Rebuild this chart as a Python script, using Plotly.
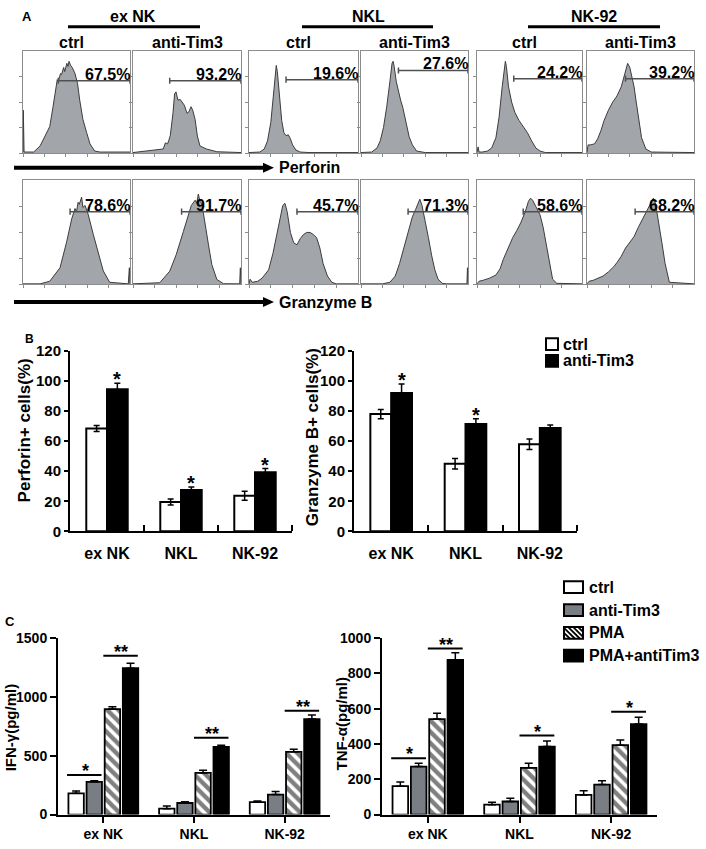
import plotly.graph_objects as go

W, H = 706, 849
FONT = "Arial, 'Liberation Sans', sans-serif"

# ======================= DATA =======================
cell_lines = ["ex NK", "NKL", "NK-92"]
conditions_A = ["ctrl", "anti-Tim3"]

# ---- Panel A: flow histograms (x: % of channel range, y: % of max count) ----
prf_exnk_ctrl_x = [0, 0.3, 1, 10, 16, 19, 25, 28, 31, 32, 33, 35, 36, 38, 39, 41, 42, 43, 44.5, 46, 48.6, 51, 53, 56, 59.5, 62.6, 67, 72, 100]
prf_exnk_ctrl_y = [1, 42, 1, 1, 7, 13, 26, 45, 65, 72, 70, 78, 77, 84, 80, 88, 85, 90, 86, 84, 78, 68, 52, 33, 20, 9, 2, 1, 1]
prf_exnk_anti_x = [0, 28, 30, 32, 33, 34.5, 37, 38.5, 39.8, 41.6, 43.8, 45.3, 47.5, 50, 51.9, 53.7, 55.3, 57.5, 59.6, 62, 68, 77.6, 93, 100]
prf_exnk_anti_y = [0.5, 4, 10, 9, 12, 17, 39, 58, 60, 52, 52.5, 50, 47, 39, 40.7, 45.5, 42, 33, 16.7, 7, 4, 1.3, 0.6, 0.5]
prf_nkl_ctrl_x = [0, 10, 14, 17, 20, 22, 24, 25, 26, 28, 30, 32, 34, 36, 38, 40, 43, 47, 55, 100]
prf_nkl_ctrl_y = [0.5, 1, 4, 12, 30, 55, 80, 86, 80, 55, 32, 20, 17, 18, 14, 8, 3, 1, 0.5, 0.5]
prf_nkl_anti_x = [0, 10, 15, 18, 21, 24, 27, 29, 30, 31, 33, 35, 37, 39, 42, 45, 48, 52, 60, 100]
prf_nkl_anti_y = [0.5, 1, 5, 12, 25, 45, 70, 88, 90, 85, 70, 60, 52, 45, 30, 16, 8, 2, 0.5, 0.5]
prf_nk92_ctrl_x = [0, 1, 2, 5, 10, 14, 18, 21, 24, 26, 27, 28, 30, 33, 36, 40, 44, 48, 52, 56, 60, 65, 100]
prf_nk92_ctrl_y = [0.5, 6, 1, 1, 2, 5, 15, 35, 65, 85, 90, 85, 65, 50, 40, 32, 26, 20, 12, 5, 2, 0.5, 0.5]
prf_nk92_anti_x = [0, 1, 3, 7, 10, 13, 16, 20, 24, 28, 32, 35, 37, 38, 40, 42, 44, 46, 48, 51, 55, 60, 100]
prf_nk92_anti_y = [0.5, 8, 8, 9, 14, 22, 32, 42, 50, 56, 65, 78, 85, 88, 84, 75, 65, 50, 35, 15, 4, 1, 0.5]

gzb_exnk_ctrl_x = [0, 16, 25, 34.6, 40.8, 45.5, 48.6, 50, 51.5, 52.6, 54.8, 56, 58, 61, 65.7, 70.4, 75, 81, 98.4, 99.4, 100]
gzb_exnk_ctrl_y = [0.5, 0.5, 3, 16, 41, 63, 73, 70, 79, 77, 84, 74, 76, 67, 48, 29, 13, 2, 0.5, 16, 0.5]
gzb_exnk_anti_x = [0, 24.8, 34, 40, 46.6, 51, 54, 57.5, 59, 60.5, 62, 63.7, 66.8, 69.9, 73, 77.6, 83.9, 98.8, 99.4, 100]
gzb_exnk_anti_y = [0.5, 1.6, 12.7, 28.6, 50.8, 66.7, 76, 81, 78, 87, 80, 78, 60, 38, 19, 4.8, 0.6, 0.5, 16, 0.5]
gzb_nkl_ctrl_x = [0, 1, 3, 8, 12, 18, 22, 26, 29, 31, 33, 35, 38, 41, 44, 47, 50, 53, 56, 59, 62, 65, 68, 72, 76, 80, 100]
gzb_nkl_ctrl_y = [0.5, 5, 2, 3, 6, 14, 30, 50, 68, 76, 78, 70, 50, 40, 38, 44, 48, 50, 50, 48, 45, 35, 20, 8, 2, 0.5, 0.5]
gzb_nkl_anti_x = [0, 20, 27, 32, 36, 40, 44, 48, 51, 53, 55, 57, 60, 63, 66, 69, 72, 76, 80, 99, 99.5, 100]
gzb_nkl_anti_y = [0.5, 0.5, 2, 8, 20, 35, 52, 65, 72, 78, 82, 76, 62, 45, 28, 14, 5, 1, 0.5, 0.5, 16, 0.5]
gzb_nk92_ctrl_x = [0, 2, 6, 12, 18, 22, 25, 28, 31, 34, 38, 42, 46, 49, 51, 53, 56, 60, 63, 66, 69, 72, 76, 100]
gzb_nk92_ctrl_y = [0.5, 3, 4, 6, 9, 15, 24, 31, 38, 45, 52, 60, 70, 80, 83, 81, 75, 67, 55, 39, 20, 5, 1, 0.5]
gzb_nk92_anti_x = [0, 2, 6, 10, 15, 20, 25, 28, 32, 36, 40, 44, 48, 52, 56, 60, 62, 64, 66, 68, 70, 73, 77, 100]
gzb_nk92_anti_y = [0.5, 3, 4, 6, 8, 12, 17, 21, 27, 35, 40, 46, 55, 63, 72, 80, 83, 78, 66, 55, 40, 20, 2, 0.5]

perforin_pct = ["67.5%", "93.2%", "19.6%", "27.6%", "24.2%", "39.2%"]
perforin_gate_start = [33, 34, 34, 35, 35, 36]
perforin_gate_level = [71, 71, 72, 81, 73, 73]
granzyme_pct = ["78.6%", "91.7%", "45.7%", "71.3%", "58.6%", "68.2%"]
granzyme_gate_start = [44, 45, 44, 44, 44, 45]
granzyme_gate_level = [70, 70, 70, 70, 70, 70]

# ---- Panel B ----
perforin_ctrl = [68.5, 19.5, 23.7]
perforin_ctrl_err = [2, 2, 3]
perforin_anti = [94.5, 27.5, 39.3]
perforin_anti_err = [4, 2, 2.5]
perforin_sig = ["*", "*", "*"]
granzyme_ctrl = [78, 45, 58]
granzyme_ctrl_err = [3, 3.5, 3.5]
granzyme_anti = [92, 71.5, 68.7]
granzyme_anti_err = [6, 3.5, 2]
granzyme_sig = ["*", "*", ""]

# ---- Panel C ----
c_series = ["ctrl", "anti-Tim3", "PMA", "PMA+antiTim3"]
ifng_ctrl = [180, 50, 105]
ifng_ctrl_err = [20, 22, 10]
ifng_anti = [278, 98, 170]
ifng_anti_err = [10, 10, 25]
ifng_pma = [897, 355, 533]
ifng_pma_err = [20, 22, 22]
ifng_pma_anti = [1245, 575, 812]
ifng_pma_anti_err = [42, 14, 34]
tnfa_ctrl = [161, 56, 111]
tnfa_ctrl_err = [24, 13, 24]
tnfa_anti = [272, 74, 170]
tnfa_anti_err = [19, 19, 21]
tnfa_pma = [541, 265, 393]
tnfa_pma_err = [33, 26, 29]
tnfa_pma_anti = [876, 385, 513]
tnfa_pma_anti_err = [41, 32, 39]
# significance bars: group index, first bar of the compared pair, level, label
ifng_sig_group = [0, 0, 1, 2]
ifng_sig_first = [0, 2, 2, 2]
ifng_sig_level = [336, 1351, 653, 883]
ifng_sig_text = ["*", "**", "**", "**"]
tnfa_sig_group = [0, 0, 1, 2]
tnfa_sig_first = [0, 2, 2, 2]
tnfa_sig_level = [319, 941, 448, 583]
tnfa_sig_text = ["*", "**", "*", "*"]

# ======================= HELPERS =======================
def PX(x):
    return x / W

def PY(y):
    return 1 - y / H

def bold(size):
    return dict(family=FONT, size=size, color="black", weight="bold")

fig = go.Figure()
shapes = []
annotations = []
layout = dict(
    width=W, height=H, margin=dict(l=0, r=0, t=0, b=0),
    paper_bgcolor="white", plot_bgcolor="white", showlegend=False,
    font=dict(family=FONT, color="black"), barmode="overlay",
)

def ax_names(n):
    return ("x" if n == 1 else f"x{n}", "y" if n == 1 else f"y{n}",
            "xaxis" if n == 1 else f"xaxis{n}", "yaxis" if n == 1 else f"yaxis{n}")

# ======================= PANEL A =======================
hists = [
    (prf_exnk_ctrl_x, prf_exnk_ctrl_y), (prf_exnk_anti_x, prf_exnk_anti_y),
    (prf_nkl_ctrl_x, prf_nkl_ctrl_y), (prf_nkl_anti_x, prf_nkl_anti_y),
    (prf_nk92_ctrl_x, prf_nk92_ctrl_y), (prf_nk92_anti_x, prf_nk92_anti_y),
    (gzb_exnk_ctrl_x, gzb_exnk_ctrl_y), (gzb_exnk_anti_x, gzb_exnk_anti_y),
    (gzb_nkl_ctrl_x, gzb_nkl_ctrl_y), (gzb_nkl_anti_x, gzb_nkl_anti_y),
    (gzb_nk92_ctrl_x, gzb_nk92_ctrl_y), (gzb_nk92_anti_x, gzb_nk92_anti_y),
]
gate_pct = perforin_pct + granzyme_pct
gate_start = perforin_gate_start + granzyme_gate_start
gate_level = perforin_gate_level + granzyme_gate_level

box_x = [(23, 130), (133, 241), (249, 358), (361, 468), (477, 582), (587, 694)]
row_y = [(43, 147), (175, 281)]
GATE = "#505050"

for i, (hx, hy) in enumerate(hists):
    n = i + 1
    row, col = divmod(i, 6)
    xr, yr, xa, ya = ax_names(n)
    fig.add_trace(go.Scatter(
        x=hx, y=hy, mode="lines", fill="tozeroy",
        line=dict(color="#3c3c3c", width=1), fillcolor="#a2a6aa",
        xaxis=xr, yaxis=yr, hoverinfo="skip"))
    layout[xa] = dict(domain=[PX(box_x[col][0]), PX(box_x[col][1])], range=[0, 100],
                      showline=True, mirror=True, linecolor="#8c8c8c", linewidth=1,
                      ticks="outside", ticklen=3, tickcolor="#8c8c8c",
                      tickvals=[0, 20, 40, 60, 80], showticklabels=False,
                      showgrid=False, zeroline=False, anchor=yr, fixedrange=True)
    layout[ya] = dict(domain=[PY(row_y[row][1]), PY(row_y[row][0])], range=[0, 100],
                      showline=True, mirror=True, linecolor="#8c8c8c", linewidth=1,
                      ticks="outside", ticklen=3, tickcolor="#8c8c8c",
                      tickvals=[0, 25, 50, 75], showticklabels=False,
                      showgrid=False, zeroline=False, anchor=xr, fixedrange=True)
    s, L = gate_start[i], gate_level[i]
    shapes.append(dict(type="line", xref=xr, yref=yr, x0=s, x1=100, y0=L, y1=L,
                       line=dict(color=GATE, width=1.5)))
    for gx in (s, 100):
        shapes.append(dict(type="line", xref=xr, yref=yr, x0=gx, x1=gx, y0=L - 3, y1=L + 3,
                           line=dict(color=GATE, width=1.5)))
    annotations.append(dict(text=gate_pct[i], xref=xr, yref=yr, x=100, y=L,
                            xanchor="right", yanchor="bottom", yshift=-4, xshift=2,
                            showarrow=False, font=bold(16)))

# column headers
header_centers = [133, 368, 594]
header_lines = [(68, 200), (302, 433), (528, 660)]
for name, cx, (l0, l1) in zip(cell_lines, header_centers, header_lines):
    annotations.append(dict(text=name, xref="paper", yref="paper", x=PX(cx), y=PY(8),
                            xanchor="center", yanchor="middle", showarrow=False, font=bold(16)))
    shapes.append(dict(type="line", xref="paper", yref="paper", x0=PX(l0), x1=PX(l1),
                       y0=PY(18), y1=PY(18), line=dict(color="black", width=3)))
for col, (b0, b1) in enumerate(box_x):
    annotations.append(dict(text=conditions_A[col % 2], xref="paper", yref="paper",
                            x=PX((b0 + b1) / 2 + (-5 if col % 2 == 0 else 0)), y=PY(34),
                            xanchor="center", yanchor="middle", showarrow=False, font=bold(16)))

# axis arrows
for ay, label in ((162, "Perforin"), (299, "Granzyme B")):
    shapes.append(dict(type="line", xref="paper", yref="paper", x0=PX(14), x1=PX(266),
                       y0=PY(ay), y1=PY(ay), line=dict(color="black", width=4)))
    shapes.append(dict(type="path", xref="paper", yref="paper",
                       path=f"M {PX(263)},{PY(ay - 5)} L {PX(274)},{PY(ay)} L {PX(263)},{PY(ay + 5)} Z",
                       fillcolor="black", line=dict(color="black", width=0)))
    annotations.append(dict(text=label, xref="paper", yref="paper", x=PX(277), y=PY(ay),
                            xanchor="left", yanchor="middle", showarrow=False, font=bold(16)))

# panel letters
for letter, lx, ly, fs in (("A", 27, 8, 13), ("B", 29, 337, 12), ("C", 10, 625, 13)):
    annotations.append(dict(text=letter, xref="paper", yref="paper", x=PX(lx), y=PY(ly),
                            xanchor="center", yanchor="middle", showarrow=False, font=bold(fs)))

# ======================= PANEL B =======================
cats = [0, 1, 2]
BW = 0.28
b_panels = [
    (13, (70, 292), perforin_ctrl, perforin_ctrl_err, perforin_anti, perforin_anti_err,
     perforin_sig, "Perforin+ cells(%)", 24, 430),
    (14, (354, 577), granzyme_ctrl, granzyme_ctrl_err, granzyme_anti, granzyme_anti_err,
     granzyme_sig, "Granzyme B+ cells(%)", 312, 437),
]
for n, (x0, x1), vc, ec, va, ea, sig, title, tx, ty in b_panels:
    xr, yr, xa, ya = ax_names(n)
    fig.add_trace(go.Bar(x=cats, y=vc, width=BW, offset=-BW, xaxis=xr, yaxis=yr,
                         marker=dict(color="white", line=dict(color="black", width=2)),
                         error_y=dict(type="data", array=ec, color="black", thickness=1.5, width=3)))
    fig.add_trace(go.Bar(x=cats, y=va, width=BW, offset=0, xaxis=xr, yaxis=yr,
                         marker=dict(color="black", line=dict(color="black", width=2)),
                         error_y=dict(type="data", array=ea, color="black", thickness=1.5, width=3)))
    layout[xa] = dict(domain=[PX(x0), PX(x1)], range=[-0.5, 2.5], anchor=yr,
                      tickvals=cats, ticktext=cell_lines, ticks="", tickfont=bold(16),
                      ticklabelstandoff=6,
                      showline=True, linecolor="black", linewidth=2, showgrid=False, zeroline=False,
                      minor=dict(tickvals=[0.5, 1.5, 2.5], ticks="inside", ticklen=6, tickwidth=2,
                                 tickcolor="black", showgrid=False),
                      fixedrange=True)
    layout[ya] = dict(domain=[PY(533), PY(349)], range=[0, 120], anchor=xr,
                      tickvals=[0, 20, 40, 60, 80, 100, 120], ticks="outside", ticklen=4, tickwidth=2,
                      tickcolor="black", tickfont=bold(15), showline=True, linecolor="black",
                      linewidth=2, showgrid=False, zeroline=False, fixedrange=True)
    for k in cats:
        if sig[k]:
            annotations.append(dict(text=sig[k], xref=xr, yref=yr, x=k + BW / 2, y=va[k] + ea[k],
                                    xanchor="center", yanchor="bottom", yshift=-9,
                                    showarrow=False, font=bold(20)))
    annotations.append(dict(text=title, xref="paper", yref="paper", x=PX(tx), y=PY(ty),
                            textangle=-90, xanchor="center", yanchor="middle",
                            showarrow=False, font=bold(17)))

# B legend
for k, (lab, col) in enumerate(zip(conditions_A, ["white", "black"])):
    top = 336 + k * 17
    shapes.append(dict(type="rect", xref="paper", yref="paper", x0=PX(546), x1=PX(558),
                       y0=PY(top + 12), y1=PY(top), fillcolor=col,
                       line=dict(color="black", width=2)))
    annotations.append(dict(text=lab, xref="paper", yref="paper", x=PX(561), y=PY(top + 6),
                            xanchor="left", yanchor="middle", showarrow=False, font=bold(16)))

# ======================= PANEL C =======================
CW = 0.17
slot_offsets = [-0.4, -0.2, 0.0, 0.2]
styles = [
    dict(color="white", line=dict(color="black", width=1.8)),
    dict(color="#787e83", line=dict(color="black", width=1.8)),
    dict(color="white", line=dict(color="black", width=1.8),
         pattern=dict(shape="\\", fgcolor="black", bgcolor="white", size=8, solidity=0.55)),
    dict(color="black", line=dict(color="black", width=1.8)),
]
c_panels = [
    (15, (58, 330), [ifng_ctrl, ifng_anti, ifng_pma, ifng_pma_anti],
     [ifng_ctrl_err, ifng_anti_err, ifng_pma_err, ifng_pma_anti_err],
     [0, 500, 1000, 1500], 1500, ifng_sig_group, ifng_sig_first, ifng_sig_level, ifng_sig_text,
     "IFN-γ(pg/ml)", 10, 733),
    (16, (382, 657), [tnfa_ctrl, tnfa_anti, tnfa_pma, tnfa_pma_anti],
     [tnfa_ctrl_err, tnfa_anti_err, tnfa_pma_err, tnfa_pma_anti_err],
     [0, 200, 400, 600, 800, 1000], 1000, tnfa_sig_group, tnfa_sig_first, tnfa_sig_level, tnfa_sig_text,
     "TNF-α(pg/ml)", 341, 730),
]
for (n, (x0, x1), series, errs, ytv, ymax, sg, sf, sl, st, title, tx, ty) in c_panels:
    xr, yr, xa, ya = ax_names(n)
    for j, (vals, er) in enumerate(zip(series, errs)):
        fig.add_trace(go.Bar(x=cats, y=vals, width=CW, offset=slot_offsets[j] + 0.015,
                             xaxis=xr, yaxis=yr, marker=styles[j],
                             error_y=dict(type="data", symmetric=False, array=er,
                                          arrayminus=[0] * len(er), color="black",
                                          thickness=1.5, width=4)))
    layout[xa] = dict(domain=[PX(x0), PX(x1)], range=[-0.5, 2.5], anchor=yr,
                      tickvals=cats, ticktext=cell_lines, ticks="outside", ticklen=6, tickwidth=2,
                      tickcolor="black", tickfont=bold(14), showline=True, linecolor="black",
                      linewidth=2, showgrid=False, zeroline=False, fixedrange=True)
    layout[ya] = dict(domain=[PY(822), PY(642)], range=[0, ymax], anchor=xr,
                      tickvals=ytv, ticks="outside", ticklen=6, tickwidth=2, tickcolor="black",
                      tickfont=bold(14), showline=True, linecolor="black", linewidth=2,
                      showgrid=False, zeroline=False, fixedrange=True)
    for g, f, lvl, txt in zip(sg, sf, sl, st):
        xa0 = g + slot_offsets[f]
        xa1 = g + slot_offsets[f + 1] + 0.2
        shapes.append(dict(type="line", xref=xr, yref=yr, x0=xa0, x1=xa1 - 0.02, y0=lvl, y1=lvl,
                           line=dict(color="black", width=2)))
        annotations.append(dict(text=txt, xref=xr, yref=yr, x=(xa0 + xa1) / 2, y=lvl,
                                xanchor="center", yanchor="bottom", yshift=-8,
                                showarrow=False, font=bold(18)))
    annotations.append(dict(text=title, xref="paper", yref="paper", x=PX(tx), y=PY(ty),
                            textangle=-90, xanchor="center", yanchor="middle",
                            showarrow=False, font=bold(15)))

# C legend
def stripes(x0, y0, x1, y1, step=5):
    segs = []
    c = y0 - x1
    while c < y1 - x0:
        xs = max(x0, y0 - c)
        xe = min(x1, y1 - c)
        if xe > xs:
            segs.append((xs, xs + c, xe, xe + c))
        c += step
    return segs

leg_fill = ["white", "#787e83", "white", "black"]
for k, lab in enumerate(c_series):
    cy = 590 + k * 23.3
    lx0, lx1, ly0, ly1 = 564, 583, cy - 6, cy + 6
    shapes.append(dict(type="rect", xref="paper", yref="paper", x0=PX(lx0), x1=PX(lx1),
                       y0=PY(ly1), y1=PY(ly0), fillcolor=leg_fill[k],
                       line=dict(color="black", width=2)))
    if k == 2:
        for (sx0, sy0, sx1, sy1) in stripes(lx0, ly0, lx1, ly1):
            shapes.append(dict(type="line", xref="paper", yref="paper", x0=PX(sx0), y0=PY(sy0),
                               x1=PX(sx1), y1=PY(sy1), line=dict(color="black", width=1.8)))
    annotations.append(dict(text=lab, xref="paper", yref="paper", x=PX(587), y=PY(cy),
                            xanchor="left", yanchor="middle", showarrow=False, font=bold(16)))

layout["shapes"] = shapes
layout["annotations"] = annotations
fig.update_layout(**layout)
fig.write_html("out.html", config={"displayModeBar": False},
               post_script="document.body.style.margin='0';")
